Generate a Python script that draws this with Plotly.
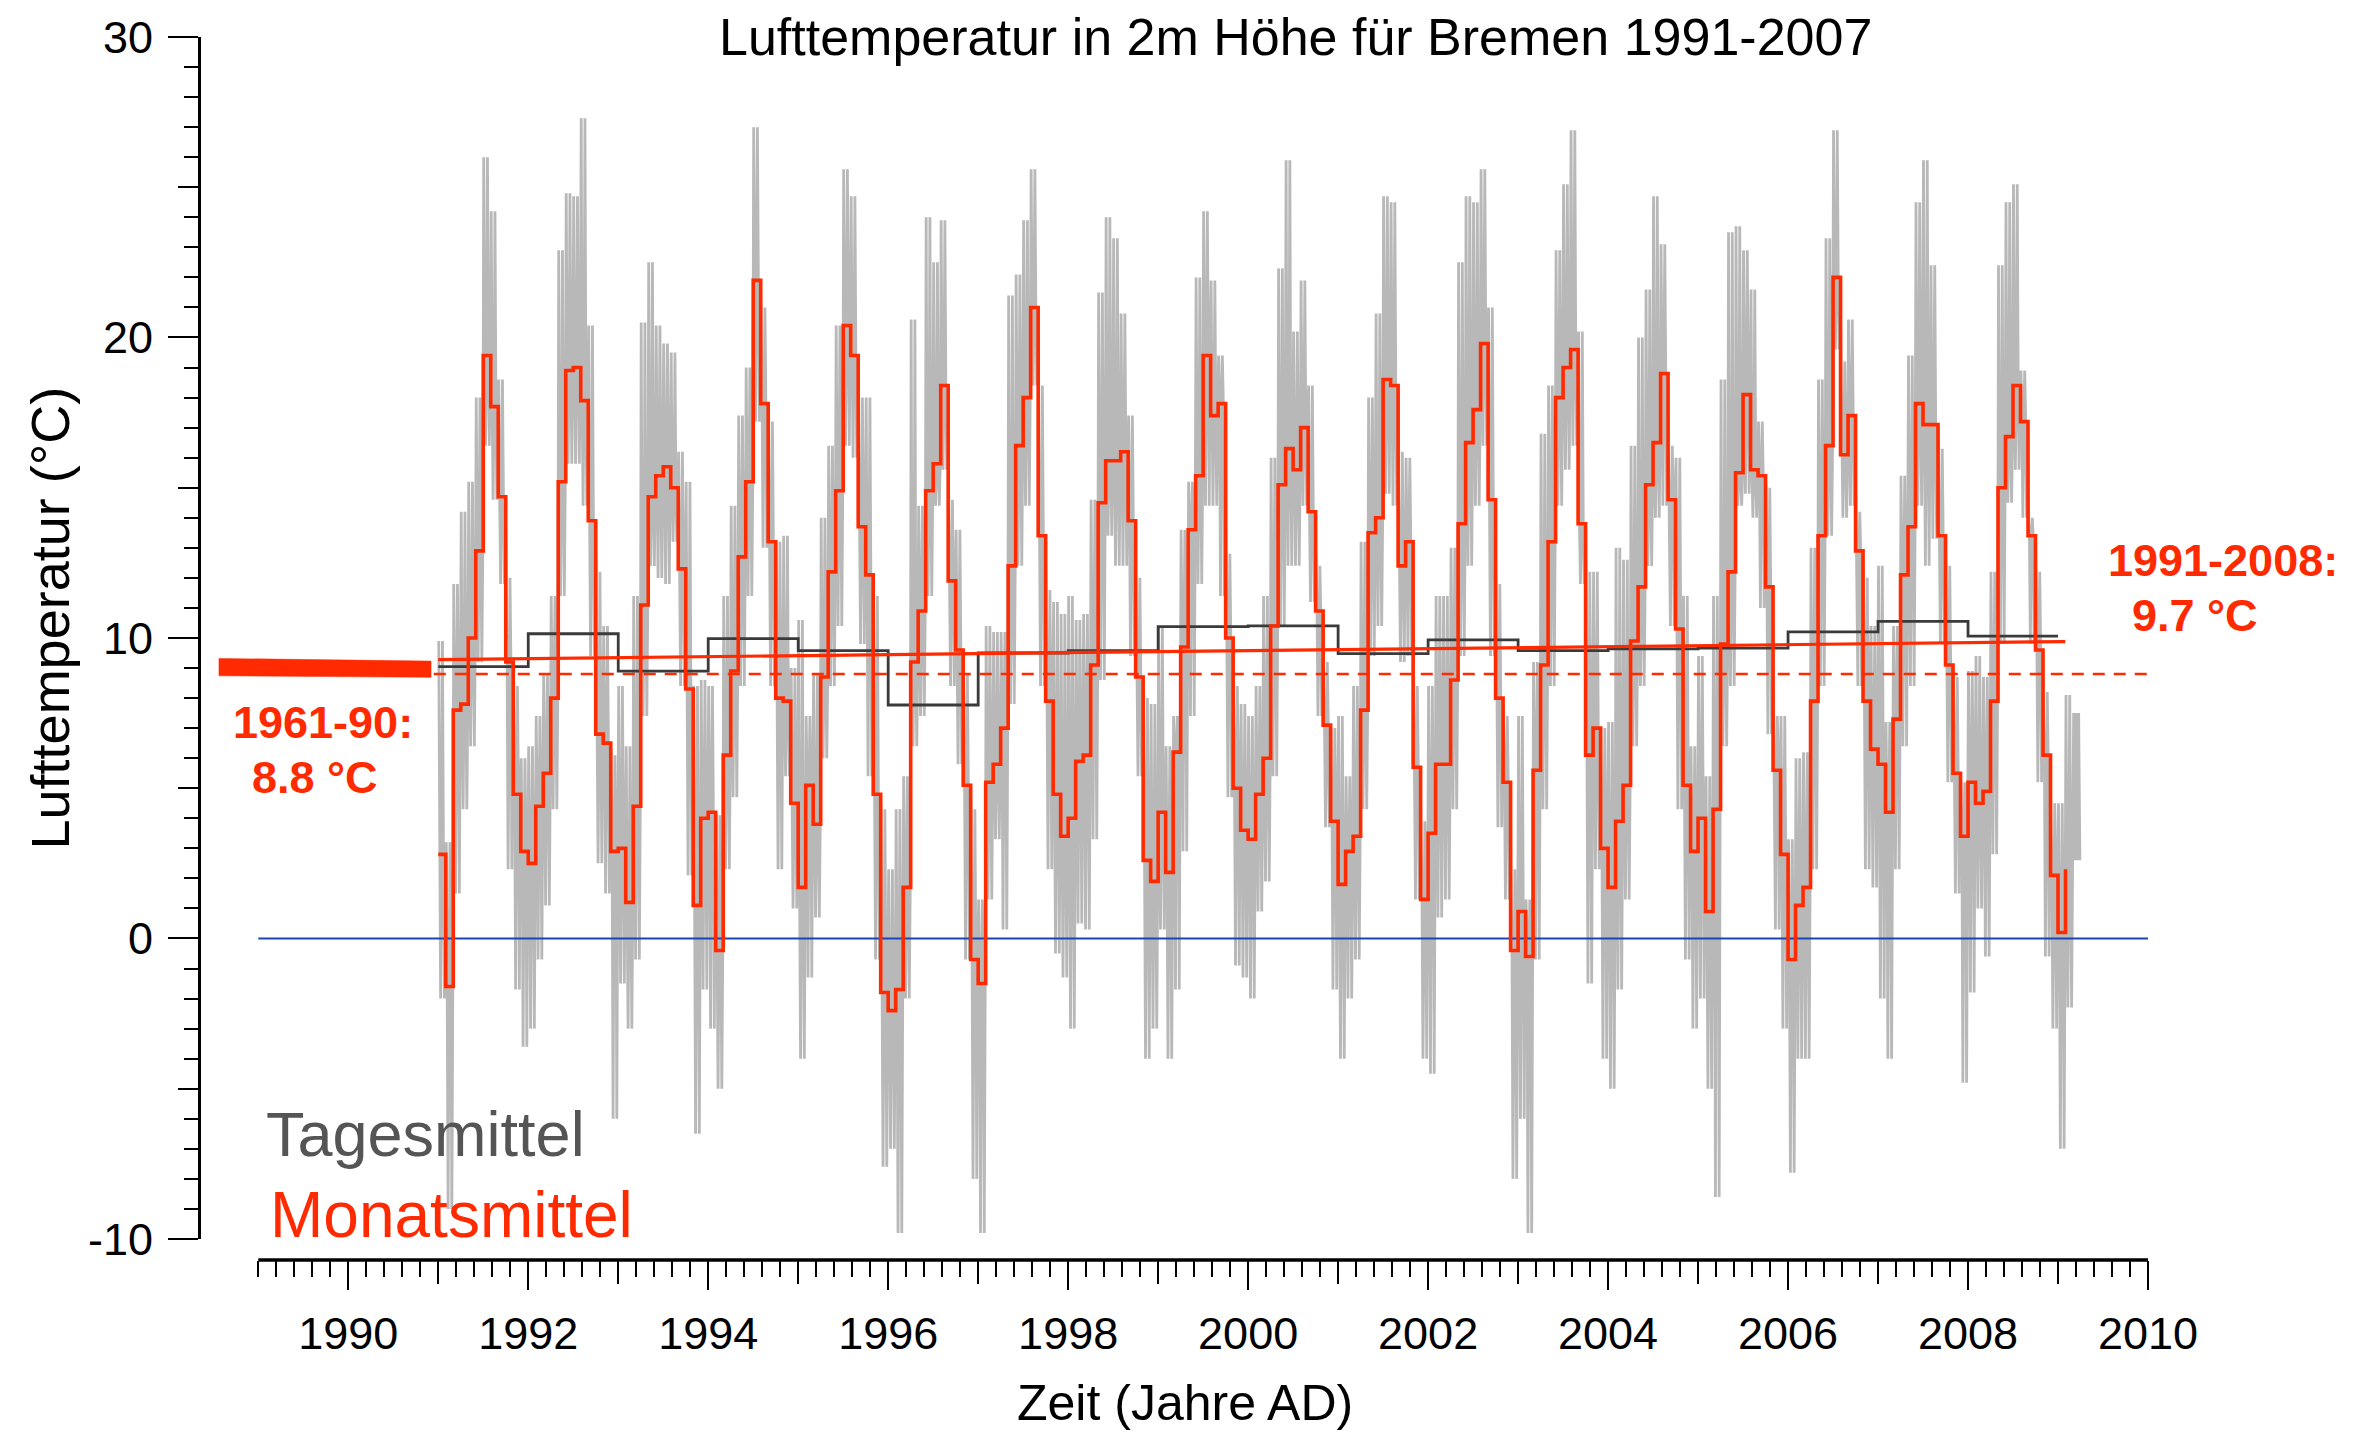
import plotly.graph_objects as go

W, H = 2375, 1435
RED = "#FF2A00"
FONT = "Liberation Sans, Arial, Helvetica, sans-serif"

# ---------------- data ----------------
start_year = 1991
# Monatsmittel, Jan 1991 .. Feb 2009 (deg C)
monatsmittel = [
    2.8, -1.6, 7.6, 7.8, 10.0, 12.9, 19.4, 17.7, 14.7, 9.2, 4.8, 2.9,      # 1991
    2.5, 4.4, 5.5, 8.0, 15.2, 18.9, 19.0, 17.9, 13.9, 6.8, 6.5, 2.9,       # 1992
    3.0, 1.2, 4.4, 11.1, 14.7, 15.4, 15.7, 15.0, 12.3, 8.3, 1.1, 4.0,      # 1993
    4.2, -0.4, 6.1, 8.9, 12.7, 15.2, 21.9, 17.8, 13.2, 8.0, 7.9, 4.5,      # 1994
    1.7, 5.1, 3.8, 8.7, 12.2, 14.9, 20.4, 19.4, 13.7, 12.1, 4.8, -1.8,     # 1995
    -2.4, -1.7, 1.7, 9.2, 10.9, 14.9, 15.8, 18.4, 11.9, 9.6, 5.1, -0.7,    # 1996
    -1.5, 5.2, 5.8, 7.0, 12.4, 16.4, 18.0, 21.0, 13.4, 7.9, 4.8, 3.4,      # 1997
    4.0, 5.9, 6.1, 9.1, 14.5, 15.9, 15.9, 16.2, 13.9, 8.7, 2.6, 1.9,       # 1998
    4.2, 2.2, 6.2, 9.7, 13.6, 15.4, 19.4, 17.4, 17.8, 10.0, 5.0, 3.6,      # 1999
    3.3, 4.8, 6.0, 10.4, 15.1, 16.3, 15.6, 17.0, 14.2, 10.9, 7.1, 3.9,     # 2000
    1.8, 2.9, 3.4, 7.6, 13.5, 14.0, 18.6, 18.4, 12.4, 13.2, 5.7, 1.3,      # 2001
    3.5, 5.8, 5.8, 8.6, 13.8, 16.5, 17.6, 19.8, 14.6, 8.0, 5.2, -0.4,      # 2002
    0.9, -0.6, 5.6, 9.1, 13.2, 18.0, 19.0, 19.6, 13.8, 6.1, 7.0, 3.0,      # 2003
    1.7, 3.9, 5.1, 9.9, 11.7, 15.1, 16.5, 18.8, 14.6, 10.3, 5.1, 2.9,      # 2004
    4.0, 0.9, 4.3, 9.8, 12.2, 15.5, 18.1, 15.6, 15.4, 11.7, 5.6, 2.8,      # 2005
    -0.7, 1.1, 1.7, 7.9, 13.4, 16.4, 22.0, 16.1, 17.4, 12.9, 7.9, 6.3,     # 2006
    5.8, 4.2, 7.3, 12.1, 13.7, 17.8, 17.1, 17.1, 13.4, 9.1, 5.5, 3.4,      # 2007
    5.2, 4.5, 4.9, 7.9, 15.0, 16.7, 18.4, 17.2, 13.4, 9.6, 6.1, 2.1,       # 2008
    0.2, 2.3,                                                              # 2009
]

# Jahresmittel 1991..2008
jahre = list(range(1991, 2009))
jahresmittel = [9.05, 10.14, 8.90, 9.98, 9.58, 7.77, 9.50, 9.58, 10.38,
                10.40, 9.48, 9.94, 9.58, 9.64, 9.66, 10.20, 10.55, 10.06]

# Tagesmittel: highest / lowest daily value in each month, Jan 1991 .. Mar 2009
tages_hi = [
    9.9, 3.2, 11.8, 14.2, 15.2, 18.0, 26.0, 24.2, 18.6, 12.0, 8.4, 6.0,
    6.4, 7.4, 8.8, 11.4, 22.9, 24.8, 24.7, 27.3, 20.4, 12.2, 10.4, 6.1,
    8.4, 6.4, 11.4, 20.5, 22.5, 20.4, 19.8, 19.5, 16.2, 15.2, 8.4, 8.6,
    8.4, 4.1, 11.4, 14.4, 17.4, 19.0, 27.0, 21.0, 17.2, 13.2, 13.4, 9.0,
    10.6, 7.4, 8.8, 14.0, 16.4, 20.4, 25.6, 24.7, 18.0, 18.0, 11.4, 4.3,
    2.3, 4.3, 5.4, 20.6, 14.4, 24.0, 22.5, 23.9, 14.6, 13.6, 8.8, 4.3,
    1.3, 10.4, 10.2, 10.2, 21.4, 22.1, 23.9, 25.6, 18.4, 11.6, 11.2, 10.8,
    11.4, 10.6, 10.8, 14.6, 21.5, 24.0, 23.3, 20.8, 17.4, 12.0, 8.0, 7.8,
    10.4, 6.4, 7.4, 13.6, 15.2, 22.0, 24.2, 21.9, 19.4, 12.8, 8.4, 7.8,
    7.4, 8.4, 11.4, 16.0, 22.3, 25.9, 20.2, 21.9, 18.4, 12.4, 9.2, 7.0,
    7.4, 5.4, 8.4, 13.2, 18.0, 20.8, 24.7, 24.5, 16.2, 16.0, 8.4, 3.9,
    8.4, 11.4, 11.4, 13.0, 22.5, 24.7, 24.5, 25.6, 21.0, 11.8, 7.4, 2.3,
    7.4, 1.3, 9.2, 16.8, 18.4, 22.9, 25.1, 26.9, 20.2, 12.2, 12.2, 7.0,
    7.2, 13.0, 12.6, 16.4, 20.0, 21.6, 24.7, 23.1, 16.4, 16.0, 11.4, 6.4,
    9.4, 5.4, 11.4, 18.6, 23.5, 23.7, 22.9, 21.6, 17.2, 15.0, 7.4, 7.4,
    3.3, 6.0, 6.2, 13.0, 18.6, 23.3, 26.9, 19.2, 20.6, 14.2, 12.0, 10.4,
    12.4, 7.2, 10.4, 15.4, 19.4, 24.5, 25.9, 22.4, 16.3, 12.4, 8.7, 5.2,
    8.9, 9.4, 8.7, 12.2, 22.4, 24.5, 25.1, 18.9, 14.0, 12.2, 8.2, 4.5,
    4.5, 8.1, 7.5,
]
tages_lo = [
    -2.0, -9.0, 1.5, 4.3, 6.4, 9.2, 16.4, 14.6, 11.8, 2.3, -1.7, -3.6,
    -3.0, -0.7, 1.1, 4.3, 11.4, 15.8, 15.8, 14.4, 9.4, 2.5, 1.5, -6.0,
    -1.5, -3.0, -0.7, 7.4, 12.4, 12.0, 11.8, 13.2, 8.4, 2.1, -6.5, -1.7,
    -3.0, -5.0, 2.3, 4.7, 8.4, 11.4, 17.2, 13.0, 8.4, 2.3, 5.4, 1.0,
    -4.0, -1.3, 0.7, 6.0, 8.4, 10.4, 16.4, 16.0, 9.8, 5.4, -0.7, -7.6,
    -7.0, -9.8, -2.0, 6.4, 7.4, 11.4, 14.4, 15.6, 8.4, 5.8, -0.7, -8.0,
    -9.8, 1.3, 3.3, 0.3, 7.8, 12.4, 14.4, 18.4, 8.4, 2.3, -0.5, -1.3,
    -3.0, 0.5, 0.3, 3.3, 8.6, 13.4, 12.4, 12.4, 9.4, 5.4, -4.0, -3.0,
    0.3, -4.0, -1.7, 2.9, 7.4, 11.8, 14.4, 14.4, 11.4, 4.7, -0.9, -1.3,
    -2.0, 0.9, 1.9, 5.4, 10.4, 12.4, 12.4, 14.4, 11.2, 7.4, 3.7, -1.7,
    -4.0, -2.0, -0.7, 4.3, 9.4, 10.4, 14.8, 14.4, 9.2, 9.4, 1.3, -4.0,
    -4.5, 0.7, 1.3, 4.3, 9.4, 12.4, 14.4, 16.4, 9.4, 3.7, 1.3, -8.0,
    -6.0, -9.8, -0.7, 4.3, 8.4, 14.4, 15.6, 16.4, 11.8, -1.5, 2.3, -4.0,
    -5.0, -1.7, 1.3, 6.4, 8.4, 12.4, 14.0, 14.4, 10.4, 4.3, -0.7, -3.0,
    -2.0, -5.0, -8.6, 6.4, 8.4, 14.4, 14.8, 14.0, 11.0, 6.8, 0.3, -3.0,
    -7.8, -4.0, -4.0, 2.3, 8.4, 13.4, 19.6, 14.0, 14.4, 8.4, 2.3, 1.7,
    -2.0, -4.0, 2.3, 6.4, 8.4, 14.4, 12.4, 13.3, 9.8, 5.2, 1.5, -4.8,
    -1.8, 1.0, -0.6, 2.8, 9.8, 14.5, 15.6, 14.0, 9.8, 5.2, -0.6, -3.0,
    -7.0, -2.3, 2.6,
]

# linear trend of the monthly series (start, end)
trend_x = [1991.0, 2009.08]
trend_y = [9.28, 9.88]
# 1961-90 reference mean
ref_mean = 8.8
ref_x = [1990.95, 2010.0]
# thick bar marking the 1961-90 mean on the left
bar_x = [1988.56, 1990.92]
bar_top = [9.32, 9.23]
bar_bot = [8.74, 8.69]
zero_x = [1989.0, 2010.0]

x_labels = [str(y) for y in range(1990, 2011, 2)]
y_labels = ["-10", "0", "10", "20", "30"]

# ---------------- geometry ----------------
L_PX, R_PX = 199.0, 2148.3
T_PX, XAX_PX, YM10_PX = 33.8, 1260.5, 1239.4
X0 = 1989 - (258.3 - L_PX) / ((R_PX - 258.3) / 21.0)
PW = R_PX - L_PX
PH = XAX_PX - T_PX


def px(xp):
    return (xp - L_PX) / PW


def py(yp):
    return (XAX_PX - yp) / PH


fig = go.Figure()

# daily values (grey): within each month the line swings between the
# monthly extremes and the monthly mean
dx, dy = [], []
for i, (hi, lo) in enumerate(zip(tages_hi, tages_lo)):
    m = monatsmittel[i] if i < len(monatsmittel) else None
    seq = [hi, m, lo, m, hi, m, lo, m] if m is not None else [hi, lo, hi, lo, hi, lo]
    n = len(seq)
    for k, v in enumerate(seq):
        dx.append(start_year + (i + (k + 0.5) / n) / 12)
        dy.append(v)
fig.add_trace(go.Scatter(x=dx, y=dy, mode="lines",
                         line=dict(color="#b8b8b8", width=2.8), hoverinfo="skip"))

# zero line
fig.add_trace(go.Scatter(x=zero_x, y=[0, 0], mode="lines",
                         line=dict(color="#1b45b0", width=2)))
# 1961-90 mean dashed
fig.add_trace(go.Scatter(x=ref_x, y=[ref_mean, ref_mean], mode="lines",
                         line=dict(color=RED, width=2.5, dash="12px,9px")))
# thick bar
fig.add_trace(go.Scatter(x=[bar_x[0], bar_x[1], bar_x[1], bar_x[0]],
                         y=[bar_top[0], bar_top[1], bar_bot[1], bar_bot[0]],
                         mode="lines", fill="toself", fillcolor=RED,
                         line=dict(color=RED, width=0.5)))
# annual means (step)
fig.add_trace(go.Scatter(x=jahre + [jahre[-1] + 1], y=jahresmittel + [jahresmittel[-1]],
                         mode="lines", line=dict(color="#3a3a3a", width=2.8, shape="hv")))
# trend
fig.add_trace(go.Scatter(x=trend_x, y=trend_y, mode="lines",
                         line=dict(color=RED, width=3.2)))
# monthly means (step)
mx = [start_year + i / 12 for i in range(len(monatsmittel))]
fig.add_trace(go.Scatter(x=mx, y=monatsmittel, mode="lines",
                         line=dict(color=RED, width=3.6, shape="hv")))

ann = []


def text(t, x, y, size, color="black", bold=False, xanchor="center", angle=0):
    ann.append(dict(text=("<b>%s</b>" % t) if bold else t, x=px(x), y=py(y),
                    xref="paper", yref="paper", xanchor=xanchor, yanchor="middle",
                    showarrow=False, textangle=angle,
                    font=dict(family=FONT, size=size, color=color)))


text("Lufttemperatur in 2m Höhe für Bremen 1991-2007", 1296, 34, 52)
text("Lufttemperatur (°C)", 50, 617, 54, angle=-90)
text("Zeit (Jahre AD)", 1185, 1404, 50)
text("1961-90:", 231, 721, 45, RED, True, "left")
text("8.8 °C", 250, 777, 45, RED, True, "left")
text("1991-2008:", 2106, 559, 45, RED, True, "left")
text("9.7 °C", 2130, 614, 45, RED, True, "left")
text("Tagesmittel", 264, 1134, 63, "#555555", False, "left")
text("Monatsmittel", 268, 1215, 64, RED, False, "left")

ydom0 = (XAX_PX - YM10_PX) / PH
tickfont = dict(family=FONT, size=45, color="black")

fig.update_layout(
    width=W, height=H, autosize=False,
    margin=dict(l=L_PX, r=W - R_PX, t=T_PX, b=H - XAX_PX, pad=0),
    paper_bgcolor="white", plot_bgcolor="white",
    showlegend=False, annotations=ann,
    shapes=[dict(type="line", xref="x", yref="paper", x0=zero_x[0], x1=zero_x[1],
                 y0=0, y1=0, line=dict(color="black", width=3.5))],
    xaxis=dict(domain=[0, 1], range=[X0, 2010.0], anchor="free", position=0,
               showline=False, showgrid=False, zeroline=False,
               tickmode="array", tickvals=list(range(1990, 2011, 2)), ticktext=x_labels,
               ticks="outside", ticklen=29, tickwidth=2.2, tickcolor="black",
               ticklabelstandoff=5, tickfont=tickfont,
               minor=dict(tickmode="array",
                          tickvals=[1989 + k * 0.2 for k in range(106)],
                          ticks="outside", ticklen=16, tickwidth=2, tickcolor="black",
                          showgrid=False)),
    xaxis2=dict(domain=[0, 1], range=[X0, 2010.0], overlaying="x", anchor="free",
                position=0, side="bottom", showline=False, showgrid=False, zeroline=False,
                tickmode="array", tickvals=list(range(1991, 2010, 2)),
                ticks="outside", ticklen=23, tickwidth=2.2, tickcolor="black",
                showticklabels=False),
    yaxis=dict(domain=[ydom0, 1], range=[-10, 30], anchor="free", position=0,
               showline=True, linewidth=3, linecolor="black",
               showgrid=False, zeroline=False,
               tickmode="array", tickvals=[-10, 0, 10, 20, 30], ticktext=y_labels,
               ticks="outside", ticklen=30, tickwidth=2.2, tickcolor="black",
               ticklabelstandoff=6, tickfont=tickfont,
               minor=dict(dtick=1, tick0=0, ticks="outside", ticklen=14, tickwidth=2,
                          tickcolor="black", showgrid=False)),
    yaxis2=dict(domain=[ydom0, 1], range=[-10, 30], overlaying="y", anchor="free",
                position=0, side="left", showline=False, showgrid=False, zeroline=False,
                tickmode="array", tickvals=[-5, 5, 15, 25],
                ticks="outside", ticklen=21, tickwidth=2.2, tickcolor="black",
                showticklabels=False),
)

# invisible point so that the overlay axes are drawn
fig.add_trace(go.Scatter(x=[X0], y=[-20], xaxis="x2", yaxis="y2", mode="markers",
                         marker=dict(opacity=0), hoverinfo="skip"))

fig.write_html("out.html")
